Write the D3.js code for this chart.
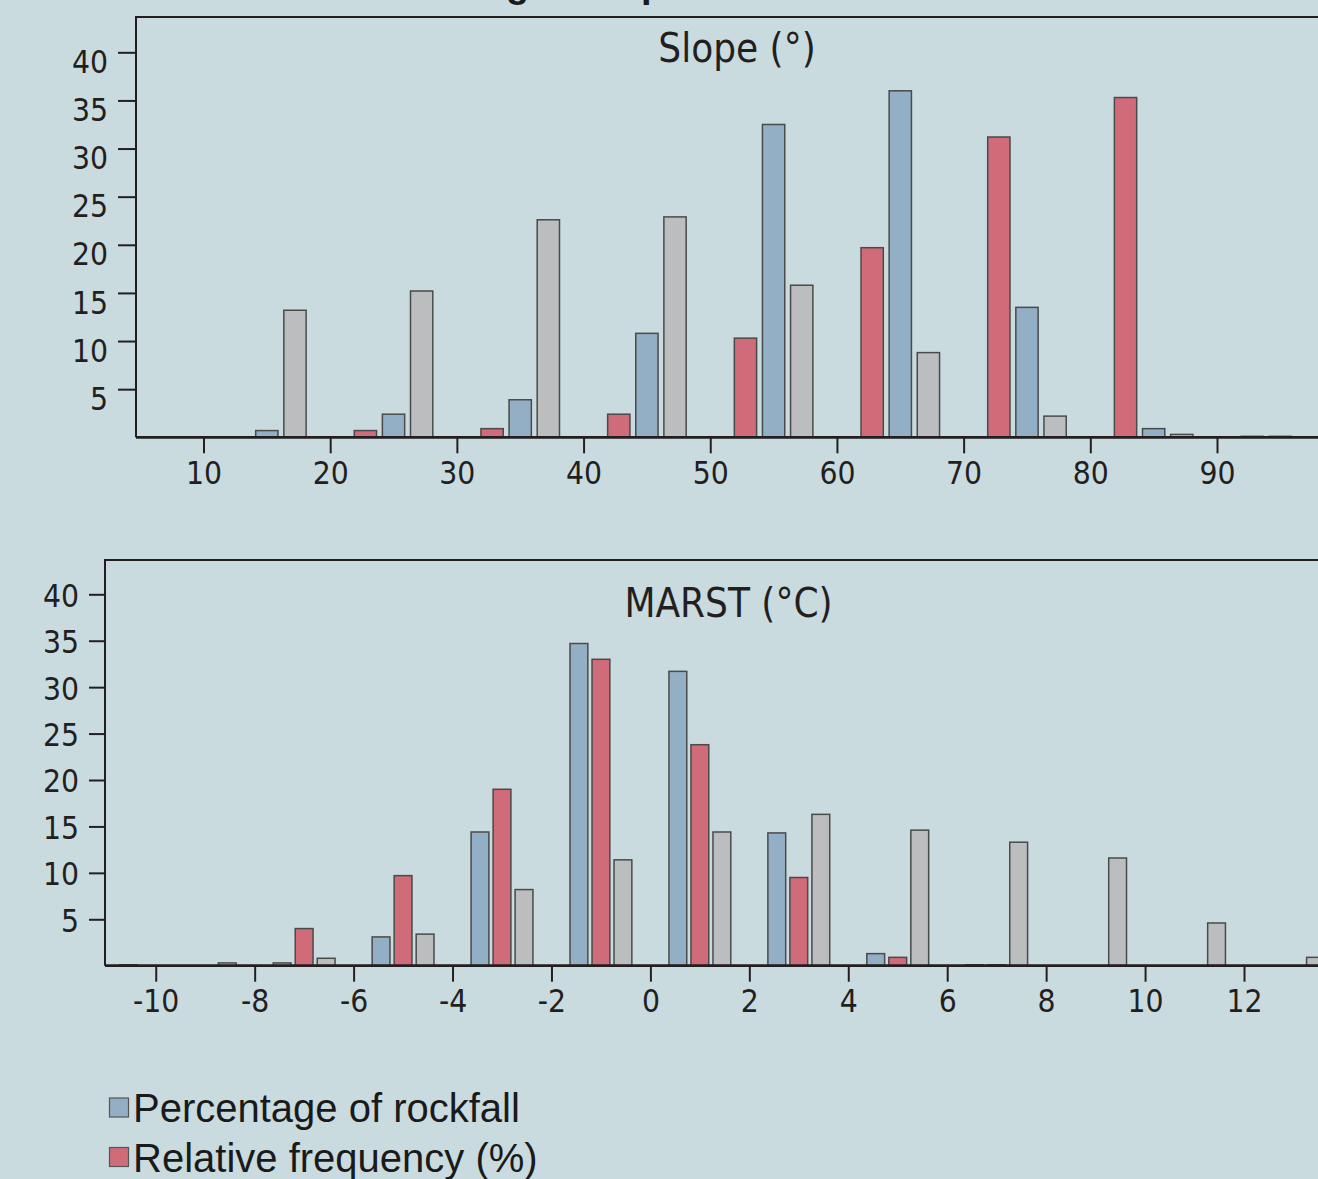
<!DOCTYPE html>
<html><head><meta charset="utf-8">
<script src="https://cdn.jsdelivr.net/npm/d3@7"></script>
<style>
html,body{margin:0;padding:0;background:#cadbe0;overflow:hidden}
svg{display:block}
</style></head>
<body>
<svg id="chart" width="1318" height="1179"></svg>
<script>
// ---------- data ----------
const slopeBins      = [15, 25, 35, 45, 55, 65, 75, 85, 95];
const slopeRelFreq   = [0, 0.7, 0.9, 2.4, 10.3, 19.7, 31.2, 35.3, 0.1];   // red
const slopeRockfall  = [0.7, 2.4, 3.9, 10.8, 32.5, 36.0, 13.5, 0.9, 0.1]; // blue
const slopeArea      = [13.2, 15.2, 22.6, 22.9, 15.8, 8.8, 2.2, 0.3, 0];   // grey
const slopeTicks     = [10, 20, 30, 40, 50, 60, 70, 80, 90];

const marstBins      = [-11, -9, -7, -5, -3, -1, 1, 3, 5, 7, 9, 11, 13];
const marstRockfall  = [0, 0, 0.3, 3.1, 14.4, 34.7, 31.7, 14.3, 1.3, 0.1, 0, 0, 0]; // blue
const marstRelFreq   = [0, 0, 4.0, 9.7, 19.0, 33.0, 23.8, 9.5, 0.9, 0.1, 0, 0, 0];  // red
const marstArea      = [0.1, 0.3, 0.8, 3.4, 8.2, 11.4, 14.4, 16.3, 14.6, 13.3, 11.6, 4.6, 0.9]; // grey
const marstTicks     = [-10, -8, -6, -4, -2, 0, 2, 4, 6, 8, 10, 12];

const yTicks = [5, 10, 15, 20, 25, 30, 35, 40];
const legendLabels = ["Percentage of rockfall", "Relative frequency (%)"];

// ---------- style ----------
const C = {blue:"#93afc6", red:"#d06c79", grey:"#bcbdbf", ink:"#231f20", barStroke:"#4a4a4a"};
const numFont = "'DejaVu Sans Condensed','DejaVu Sans',sans-serif";

const svg = d3.select("#chart");

// cut-off figure title (only descenders visible at top edge, as in the reference)
(function(){
  const pre = "Rockfall distribution accordin";
  const t = svg.append("text").attr("font-family","'Liberation Sans',Arial,sans-serif")
    .attr("font-weight","bold").attr("font-size",38).attr("visibility","hidden").text(pre);
  const w = t.node().getComputedTextLength(); t.remove();
  svg.append("text").attr("x", 506 - w).attr("y", -3)
    .attr("font-family","'Liberation Sans',Arial,sans-serif").attr("font-weight","bold")
    .attr("font-size",38).attr("fill","#1a1a1a")
    .text("Rockfall distribution according to slope and MARST");
})();

function panel(cfg){
  const g = svg.append("g");
  const x = cfg.x, y = cfg.y;
  // frame
  g.append("path")
    .attr("d", `M${cfg.left},${y(0)}V${cfg.top}H${cfg.right}`)
    .attr("fill","none").attr("stroke",C.ink).attr("stroke-width",2);
  // title
  g.append("text").attr("x",cfg.titleX).attr("y",cfg.titleY)
    .attr("text-anchor","middle").attr("font-family",numFont).attr("font-size",40)
    .attr("fill",C.ink).text(cfg.title);
  // bars
  cfg.series.forEach(s=>{
    const data = cfg.bins.map((b,i)=>({c:b+s.off, v:s.values[i]})).filter(d=>d.v>0);
    g.append("g").selectAll("rect").data(data).join("rect")
      .attr("x", d=>x(d.c - cfg.bw/2))
      .attr("width", d=>x(d.c + cfg.bw/2) - x(d.c - cfg.bw/2))
      .attr("y", d=>y(d.v))
      .attr("height", d=>y(0)-y(d.v))
      .attr("fill", s.color).attr("stroke", C.barStroke).attr("stroke-width",1.5);
  });
  // x axis line
  g.append("line").attr("x1",cfg.left).attr("x2",cfg.right).attr("y1",y(0)).attr("y2",y(0))
    .attr("stroke",C.ink).attr("stroke-width",2.8);
  // x axis ticks
  const xa = g.append("g").attr("transform",`translate(0,${y(0)})`)
    .call(d3.axisBottom(x).tickValues(cfg.xTicks).tickSize(16).tickPadding(8).tickFormat(d=>String(d)));
  xa.select(".domain").remove();
  xa.selectAll(".tick line").attr("stroke",C.ink).attr("stroke-width",2);
  xa.selectAll(".tick text").attr("font-family",numFont).attr("font-size",31.5).attr("fill",C.ink);
  // y axis
  const ya = g.append("g").attr("transform",`translate(${cfg.left},0)`)
    .call(d3.axisLeft(y).tickValues(yTicks).tickSize(cfg.yTick).tickPadding(10).tickFormat(d=>String(d)));
  ya.select(".domain").remove();
  ya.selectAll(".tick line").attr("stroke",C.ink).attr("stroke-width",2);
  ya.selectAll(".tick text").attr("font-family",numFont).attr("font-size",31.5).attr("fill",C.ink)
    .attr("dy",cfg.yDy);
}

panel({
  x: d3.scaleLinear().domain([10, 90]).range([203.5, 1217]),
  y: d3.scaleLinear().domain([0, 40]).range([437.3, 52.3]),
  left:136, right:1330, top:17, yTick:18, yDy:"0.64em",
  title:"Slope (°)", titleX:737, titleY:62,
  bins: slopeBins, bw:1.76, xTicks: slopeTicks,
  series:[
    {values:slopeRelFreq,  color:C.red,  off:-2.22},
    {values:slopeRockfall, color:C.blue, off:0},
    {values:slopeArea,     color:C.grey, off:2.22}
  ]
});

panel({
  x: d3.scaleLinear().domain([0, 12]).range([650.4, 1244]),
  y: d3.scaleLinear().domain([0, 40]).range([965.7, 594.3]),
  left:105, right:1330, top:560, yTick:16, yDy:"0.38em",
  title:"MARST (°C)", titleX:728.5, titleY:617,
  bins: marstBins, bw:0.36, xTicks: marstTicks,
  series:[
    {values:marstRockfall, color:C.blue, off:-0.445},
    {values:marstRelFreq,  color:C.red,  off:0},
    {values:marstArea,     color:C.grey, off:0.445}
  ]
});

// legend
const leg = svg.append("g");
[C.blue, C.red].forEach((col,i)=>{
  leg.append("rect").attr("x",109.5).attr("y",1098 + i*49.5).attr("width",19).attr("height",19)
    .attr("fill",col).attr("stroke","#555").attr("stroke-width",1.2);
  leg.append("text").attr("x",133).attr("y",1122 + i*49.5)
    .attr("font-family","'Liberation Sans',Arial,sans-serif").attr("font-size",40)
    .attr("fill","#1a1a1a").text(legendLabels[i]);
});
</script>
</body></html>
